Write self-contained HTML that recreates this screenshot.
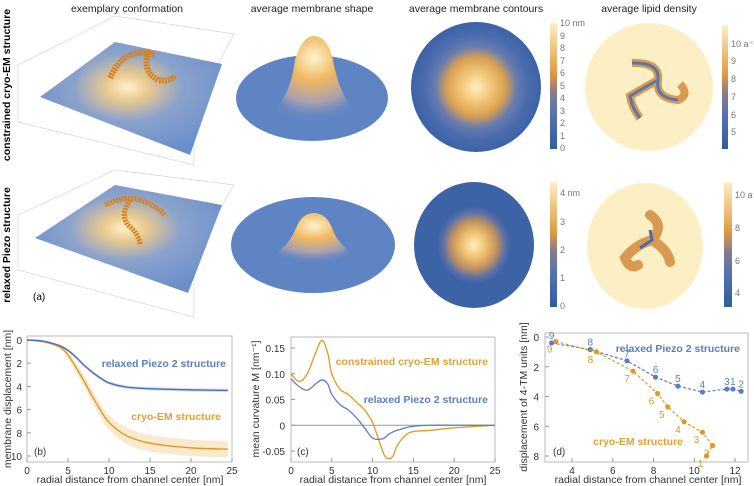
<!DOCTYPE html>
<html><head><meta charset="utf-8"><style>
body{margin:0;background:#fff;}
svg{display:block;font-family:"Liberation Sans",sans-serif;}
.t{font-size:10.5px;fill:#222}
.tk{font-size:10px;fill:#333}
.ax{font-size:10.5px;fill:#333}
.bl{fill:#5a7fc0;font-weight:bold;font-size:10.5px}
.or{fill:#e3a030;font-weight:bold;font-size:10.5px}
.cb{font-size:9px;fill:#777}
</style></head><body>
<svg id="fig" width="754" height="486" viewBox="0 0 754 486">
<defs>
<radialGradient id="bump1" cx="0.5" cy="0.25" r="0.75"><stop offset="0" stop-color="#fff4d0"/><stop offset="0.35" stop-color="#f0b860"/><stop offset="0.7" stop-color="#a8a0b0"/><stop offset="1" stop-color="#5f84c4" stop-opacity="0"/></radialGradient>
<radialGradient id="flat1" cx="0.48" cy="0.4" r="0.6"><stop offset="0" stop-color="#fff1c8"/><stop offset="0.2" stop-color="#e8c890"/><stop offset="0.5" stop-color="#8aa2cc"/><stop offset="1" stop-color="#6c8fca"/></radialGradient>
<radialGradient id="cont1" cx="0.5" cy="0.5" r="0.5"><stop offset="0" stop-color="#fff0c0"/><stop offset="0.2" stop-color="#f5cc80"/><stop offset="0.45" stop-color="#d8a050"/><stop offset="0.62" stop-color="#6a7cae"/><stop offset="0.8" stop-color="#4a6cae"/><stop offset="1" stop-color="#3c63a6"/></radialGradient>
<radialGradient id="cont2" cx="0.5" cy="0.5" r="0.5"><stop offset="0" stop-color="#fff0c0"/><stop offset="0.2" stop-color="#f0c070"/><stop offset="0.38" stop-color="#c09060"/><stop offset="0.52" stop-color="#5a70a8"/><stop offset="0.62" stop-color="#3c63a6"/><stop offset="1" stop-color="#3c63a6"/></radialGradient>
<linearGradient id="cbar" x1="0" y1="1" x2="0" y2="0"><stop offset="0" stop-color="#2f5da0"/><stop offset="0.3" stop-color="#5a74b0"/><stop offset="0.45" stop-color="#8a7c88"/><stop offset="0.6" stop-color="#e09a40"/><stop offset="1" stop-color="#fcefc4"/></linearGradient>
</defs>
<text class="t" x="127" y="12" text-anchor="middle">exemplary conformation</text>
<text class="t" x="312" y="12" text-anchor="middle">average membrane shape</text>
<text class="t" x="476" y="12" text-anchor="middle">average membrane contours</text>
<text class="t" x="649" y="12" text-anchor="middle">average lipid density</text>
<text x="10" y="85" transform="rotate(-90 10 85)" text-anchor="middle" style="font-size:10.5px;font-weight:bold">constrained cryo-EM structure</text>
<text x="10" y="245" transform="rotate(-90 10 245)" text-anchor="middle" style="font-size:10.5px;font-weight:bold">relaxed Piezo structure</text>

<g>
<polygon points="18,65 115,16 234,34 194,110 194,165 18,122" fill="none" stroke="#ccc" stroke-width="0.6"/>
<polygon points="40,97 115,42 222,64 190,155" fill="url(#flat1)"/>
<path d="M110,78 Q125,45 155,55 M150,50 Q140,70 158,80 Q172,82 175,75" stroke="#d8821c" stroke-width="6" fill="none" stroke-dasharray="2,1"/>
</g>
<g>
<ellipse cx="312" cy="98" rx="76" ry="43" fill="#5f84c4"/>
<path d="M268,115 Q290,100 295,60 Q302,36 314,36 Q328,37 333,60 Q340,100 360,115 Q312,130 268,115Z" fill="url(#bump1)"/>
</g>
<circle cx="476" cy="87" r="65" fill="url(#cont1)"/>
<rect x="550" y="23" width="7" height="126" fill="url(#cbar)"/>
<g class="cb"><text x="560" y="26">10 nm</text><text x="560" y="39">9</text><text x="560" y="51">8</text><text x="560" y="64">7</text><text x="560" y="76">6</text><text x="560" y="89">5</text><text x="560" y="101">4</text><text x="560" y="114">3</text><text x="560" y="126">2</text><text x="560" y="139">1</text><text x="560" y="151">0</text></g>
<circle cx="649" cy="87" r="64" fill="#fcefc4"/>
<path d="M632,63 Q660,62 658,80 Q655,98 678,100 Q690,95 680,84 M658,80 Q640,90 630,96 Q632,108 640,118" stroke="#d89a50" stroke-width="8" fill="none"/>
<path d="M632,63 Q660,62 658,80 Q655,98 678,100 M658,80 Q640,90 630,96 Q632,108 640,118" stroke="#5a74b0" stroke-width="3" fill="none"/>
<rect x="722" y="25" width="6" height="124" fill="url(#cbar)"/>
<g class="cb"><text x="731" y="47">10 a⁻²</text><text x="731" y="64">9</text><text x="731" y="82">8</text><text x="731" y="100">7</text><text x="731" y="118">6</text><text x="731" y="135">5</text></g>

<g>
<polygon points="18,215 115,170 234,185 194,255 194,317 18,270" fill="none" stroke="#ccc" stroke-width="0.6"/>
<polygon points="35,238 115,185 222,205 188,293" fill="url(#flat1)"/>
<path d="M105,205 Q125,195 140,200 Q155,205 165,215 M130,200 Q120,215 128,225 Q140,235 140,245" stroke="#d8821c" stroke-width="5" fill="none" stroke-dasharray="2,1"/>
<text x="33" y="300" style="font-size:10px">(a)</text>
</g>
<g>
<ellipse cx="313" cy="245" rx="82" ry="48" fill="#5f84c4"/>
<path d="M270,258 Q290,245 296,228 Q302,213 314,213 Q326,213 332,228 Q338,245 358,258 Q313,270 270,258Z" fill="url(#bump1)"/>
</g>
<ellipse cx="474" cy="245" rx="60" ry="63" fill="url(#cont2)"/>
<rect x="550" y="182" width="7" height="125" fill="url(#cbar)"/>
<g class="cb"><text x="560" y="196">4 nm</text><text x="560" y="225">3</text><text x="560" y="253">2</text><text x="560" y="281">1</text><text x="560" y="309">0</text></g>
<ellipse cx="645" cy="246" rx="58" ry="63" fill="#fcefc4"/>
<path d="M650,215 Q665,225 652,240 Q668,250 670,262 M652,240 Q635,245 625,258 Q630,270 638,265" stroke="#d89a50" stroke-width="10" fill="none" stroke-linecap="round"/>
<path d="M650,230 L652,240 L640,248" stroke="#4a6cae" stroke-width="3" fill="none"/>
<rect x="724" y="182" width="8" height="125" fill="url(#cbar)"/>
<g class="cb"><text x="735" y="198">10 a⁻²</text><text x="735" y="231">8</text><text x="735" y="264">6</text><text x="735" y="296">4</text></g>

<g id="charts"></g>
</svg>
<script>
// ---- data (b)
const bR=[0,2,4,5,6,7,8,9,10,12,15,20,24.5];
const bBlue=[0,0.1,0.5,0.9,1.5,2.2,2.8,3.3,3.7,4.05,4.2,4.3,4.35];
const bOrange=[0,0.15,0.6,1.3,2.4,3.6,4.9,6.1,7.1,8.2,8.9,9.3,9.4];
const bBlueErr=[0,0.05,0.1,0.12,0.15,0.15,0.15,0.15,0.15,0.15,0.15,0.15,0.15];
const bOrangeErr=[0,0.1,0.2,0.3,0.4,0.5,0.55,0.6,0.65,0.7,0.7,0.7,0.7];
const bXTicks=[0,5,10,15,20,25];
const bYTicks=[0,2,4,6,8,10];
// ---- data (c)
const cR=[0,1,2,3,3.8,4.5,5,6,7,8,9,10,11,11.5,12,12.5,13,14,15,17,20,25];
const cOrange=[0.10,0.085,0.1,0.14,0.165,0.14,0.1,0.07,0.06,0.045,0.03,0.005,-0.04,-0.06,-0.065,-0.06,-0.04,-0.02,-0.012,-0.01,-0.005,0];
const cBlue=[0.09,0.075,0.068,0.08,0.088,0.08,0.06,0.04,0.03,0.015,-0.005,-0.025,-0.027,-0.024,-0.017,-0.013,-0.01,-0.005,-0.002,0,0,0];
const cXTicks=[0,5,10,15,20,25];
const cYTicks=[-0.05,0,0.05,0.10,0.15];
const cYLabels=["-0.05","0","0.05","0.10","0.15"];
// ---- data (d)
const dBlueX=[3.0,4.9,6.7,8.1,9.2,10.4,11.6,11.9,12.3];
const dBlueY=[0.4,0.85,1.6,2.7,3.3,3.7,3.5,3.5,3.65];
const dBlueLab=["9","8","7","6","5","4","3","1","2"];
const dOrX=[3.2,5.2,7.0,8.2,8.7,9.5,10.4,10.9,10.6];
const dOrY=[0.3,1.0,2.3,3.8,4.7,5.7,6.4,7.3,8.0];
const dOrLab=["9","8","7","6","5","4","3","2","1"];
const dXTicks=[4,6,8,10,12];
const dYTicks=[0,2,4,6,8];

const NS="http://www.w3.org/2000/svg";
const G=document.getElementById('charts');
function mk(tag,at,parent){const e=document.createElementNS(NS,tag);for(const k in at)e.setAttribute(k,at[k]);(parent||G).appendChild(e);return e;}
function lin(d0,d1,p0,p1){return v=>p0+(v-d0)*(p1-p0)/(d1-d0);}
function smooth(pts){let d="M"+pts[0][0]+","+pts[0][1];for(let i=0;i<pts.length-1;i++){const p0=pts[Math.max(i-1,0)],p1=pts[i],p2=pts[i+1],p3=pts[Math.min(i+2,pts.length-1)];const c1=[p1[0]+(p2[0]-p0[0])/6,p1[1]+(p2[1]-p0[1])/6],c2=[p2[0]-(p3[0]-p1[0])/6,p2[1]-(p3[1]-p1[1])/6];d+=` C${c1[0]},${c1[1]} ${c2[0]},${c2[1]} ${p2[0]},${p2[1]}`;}return d;}
function text(x,y,s,cls,anchor){const t=mk('text',{x:x,y:y,class:cls,'text-anchor':anchor||'start'});t.textContent=s;return t;}
function frame(x0,y0,x1,y1,name){const r=mk('rect',{x:x0,y:y0,width:x1-x0,height:y1-y0,fill:'none',stroke:'#aaa','stroke-width':0.8});}

{const X=lin(0,25,27,232),Y=lin(0,10,340,456);
frame(27,336,232,462,'chart-b-frame');
bXTicks.forEach(v=>{const t=text(X(v),474,String(v),'tk','middle');mk('line',{x1:X(v),x2:X(v),y1:462,y2:458,stroke:'#999'});});
bYTicks.forEach(v=>{const t=text(22,Y(v)+4,String(v),'tk','end');mk('line',{x1:27,x2:31,y1:Y(v),y2:Y(v),stroke:'#999'});});
function band(vals,err,col,name){const up=bR.map((r,i)=>[X(r),Y(vals[i]-err[i])]),lo=bR.map((r,i)=>[X(r),Y(vals[i]+err[i])]).reverse();const sl=smooth(lo);const p=mk('path',{d:smooth(up)+" L"+lo[0][0]+","+lo[0][1]+sl.slice(sl.indexOf(' C'))+"Z",fill:col,'fill-opacity':0.25});}
band(bOrange,bOrangeErr,'#e8a838','b-cryo-band');band(bBlue,bBlueErr,'#5a7fc0','b-relaxed-band');
let p=mk('path',{d:smooth(bR.map((r,i)=>[X(r),Y(bOrange[i])])),stroke:'#e09a20','stroke-width':1.4,fill:'none'});
p=mk('path',{d:smooth(bR.map((r,i)=>[X(r),Y(bBlue[i])])),stroke:'#4a72b8','stroke-width':1.4,fill:'none'});
let t=text(226,367,'relaxed Piezo 2 structure','bl','end');
t=text(221,420,'cryo-EM structure','or','end');
t=text(34,455,'(b)','tk');
t=text(130,483,'radial distance from channel center  [nm]','ax','middle');
t=text(11,399,'membrane displacement [nm]','ax','middle');t.setAttribute('transform','rotate(-90 11 399)');}

{const X=lin(0,25,291,495),Y=lin(-0.05,0.15,451,348);
frame(291,337,495,462,'chart-c-frame');
mk('line',{x1:291,x2:495,y1:Y(0),y2:Y(0),stroke:'#999','stroke-width':1});
cXTicks.forEach(v=>{const t=text(X(v),474,String(v),'tk','middle');mk('line',{x1:X(v),x2:X(v),y1:462,y2:458,stroke:'#999'});});
cYTicks.forEach((v,i)=>{const t=text(285,Y(v)+4,cYLabels[i],'tk','end');mk('line',{x1:291,x2:295,y1:Y(v),y2:Y(v),stroke:'#999'});});
let p=mk('path',{d:smooth(cR.map((r,i)=>[X(r),Y(cOrange[i])])),stroke:'#e09a20','stroke-width':1.3,fill:'none'});
p=mk('path',{d:smooth(cR.map((r,i)=>[X(r),Y(cBlue[i])])),stroke:'#5a7fc0','stroke-width':1.3,fill:'none'});
let t=text(488,365,'constrained cryo-EM structure','or','end');
t=text(488,403,'relaxed Piezo 2 structure','bl','end');
t=text(297,455,'(c)','tk');
t=text(393,483,'radial distance from channel center  [nm]','ax','middle');
t=text(259,399,'mean curvature M  [nm⁻¹]','ax','middle');t.setAttribute('transform','rotate(-90 259 399)');}

{const X=lin(4,12,572,735),Y=lin(0,8,337,456);
frame(545,333,748,462,'chart-d-frame');
dXTicks.forEach(v=>{const t=text(X(v),474,String(v),'tk','middle');mk('line',{x1:X(v),x2:X(v),y1:462,y2:458,stroke:'#999'});});
dYTicks.forEach(v=>{const t=text(539,Y(v)+4,String(v),'tk','end');mk('line',{x1:545,x2:549,y1:Y(v),y2:Y(v),stroke:'#999'});});
function series(xs,ys,labs,col,name,off){let p=mk('polyline',{points:xs.map((x,i)=>X(x)+","+Y(ys[i])).join(" "),stroke:col,'stroke-width':1.2,'stroke-dasharray':'3,2',fill:'none'});
xs.forEach((x,i)=>{const c=mk('circle',{cx:X(x),cy:Y(ys[i]),r:2.6,fill:col});
const t=mk('text',{x:X(x)+off[0],y:Y(ys[i])+off[1],'font-size':10,fill:col,'text-anchor':'middle'});t.textContent=labs[i];});}
series(dBlueX,dBlueY,dBlueLab,'#5a7fc0','d-relaxed',[0,-4]);
series(dOrX,dOrY,dOrLab,'#e09a20','d-cryo',[-6,11]);
let t=text(740,352,'relaxed Piezo 2 structure','bl','end');
t=text(683,445,'cryo-EM structure','or','end');
t=text(553,455,'(d)','tk');
t=text(648,483,'radial distance from channel center  [nm]','ax','middle');
t=text(527,397,'displacement of 4-TM units [nm]','ax','middle');t.setAttribute('transform','rotate(-90 527 397)');}
</script>
</body></html>
